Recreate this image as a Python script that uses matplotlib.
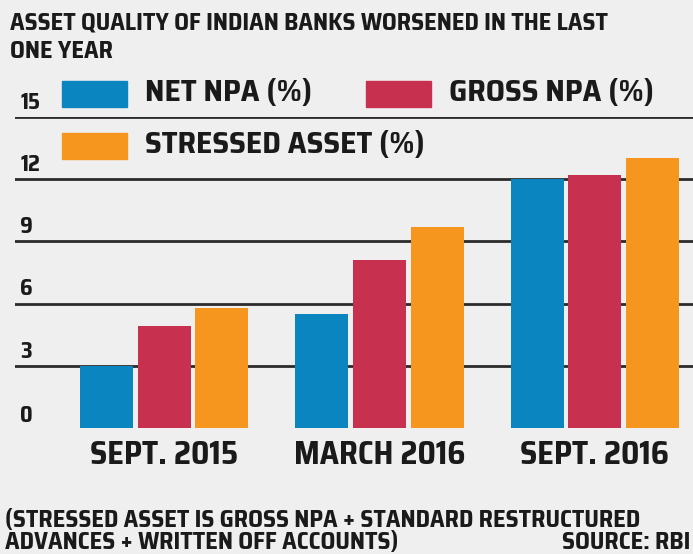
import matplotlib.pyplot as plt
import numpy as np
from matplotlib.patches import Rectangle
from matplotlib.transforms import blended_transform_factory

periods = ["SEPT. 2015", "MARCH 2016", "SEPT. 2016"]
net_npa = [3.0, 5.5, 12.0]
gross_npa = [4.9, 8.1, 12.2]
stressed = [5.8, 9.7, 13.0]
yticks = [0, 3, 6, 9, 12, 15]

bg = "#efefef"
ink = "#1a1a1a"
blue, red, orange = "#0a85c0", "#c8304f", "#f7961e"
plt.rcParams["font.family"] = ["Saira SemiCondensed", "DejaVu Sans"]

fig = plt.figure(figsize=(6.93, 5.54), dpi=100, facecolor=bg)
ax = fig.add_axes([15 / 693, 1 - 428 / 554, 1 - 15 / 693, 311 / 554])
ax.set_facecolor(bg)

x = np.arange(len(periods))
w = 0.246
step = 0.268
for vals, c, off in [(net_npa, blue, -step), (gross_npa, red, 0), (stressed, orange, step)]:
    ax.bar(x + off, vals, width=w, color=c, zorder=3)

ax.set_ylim(0, 15)
ax.set_xlim(-0.693, 2.456)
for v in yticks[1:]:
    ax.axhline(v, color="#2b2b2b", lw=2, zorder=1)
for s in ax.spines.values():
    s.set_visible(False)
ax.set_yticks([])
ax.set_xticks(x)
ax.set_xticklabels(periods, fontsize=23, fontweight="bold", color=ink)
ax.tick_params(axis="x", length=0, pad=9)

# y labels sit just above their gridlines
tr = blended_transform_factory(ax.transAxes, ax.transData)
for v in yticks:
    ax.text(0.008, v + 0.15 if v else 0.05, str(v), transform=tr, ha="left",
            va="bottom", fontsize=16, fontweight="bold", color=ink)

# title
fig.text(10 / 693, 1 - 10 / 554, "ASSET QUALITY OF INDIAN BANKS WORSENED IN THE LAST",
         ha="left", va="top", fontsize=17.5, fontweight="bold", color=ink)
fig.text(10 / 693, 1 - 39 / 554, "ONE YEAR",
         ha="left", va="top", fontsize=17.5, fontweight="bold", color=ink)

# legend drawn by hand
leg = [("NET NPA (%)", blue, 62, 81), ("GROSS NPA (%)", red, 366, 81), ("STRESSED ASSET (%)", orange, 62, 133)]
for label, c, px, py in leg:
    fig.patches.append(Rectangle((px / 693, 1 - (py + 26) / 554), 65 / 693, 26 / 554,
                                 transform=fig.transFigure, color=c, zorder=5))
    fig.text((px + 83) / 693, 1 - (py + 12) / 554, label, ha="left", va="center",
             fontsize=22.5, fontweight="bold", color=ink)

# footnote
fig.text(5 / 693, 1 - 508 / 554, "(STRESSED ASSET IS GROSS NPA + STANDARD RESTRUCTURED",
         ha="left", va="top", fontsize=17.5, fontweight="bold", color=ink)
fig.text(5 / 693, 1 - 530 / 554, "ADVANCES + WRITTEN OFF ACCOUNTS)",
         ha="left", va="top", fontsize=17.5, fontweight="bold", color=ink)
fig.text(690 / 693, 1 - 530 / 554, "SOURCE: RBI", ha="right", va="top",
         fontsize=17.5, fontweight="bold", color=ink)

fig.savefig("out.png", dpi=100, facecolor=bg)
